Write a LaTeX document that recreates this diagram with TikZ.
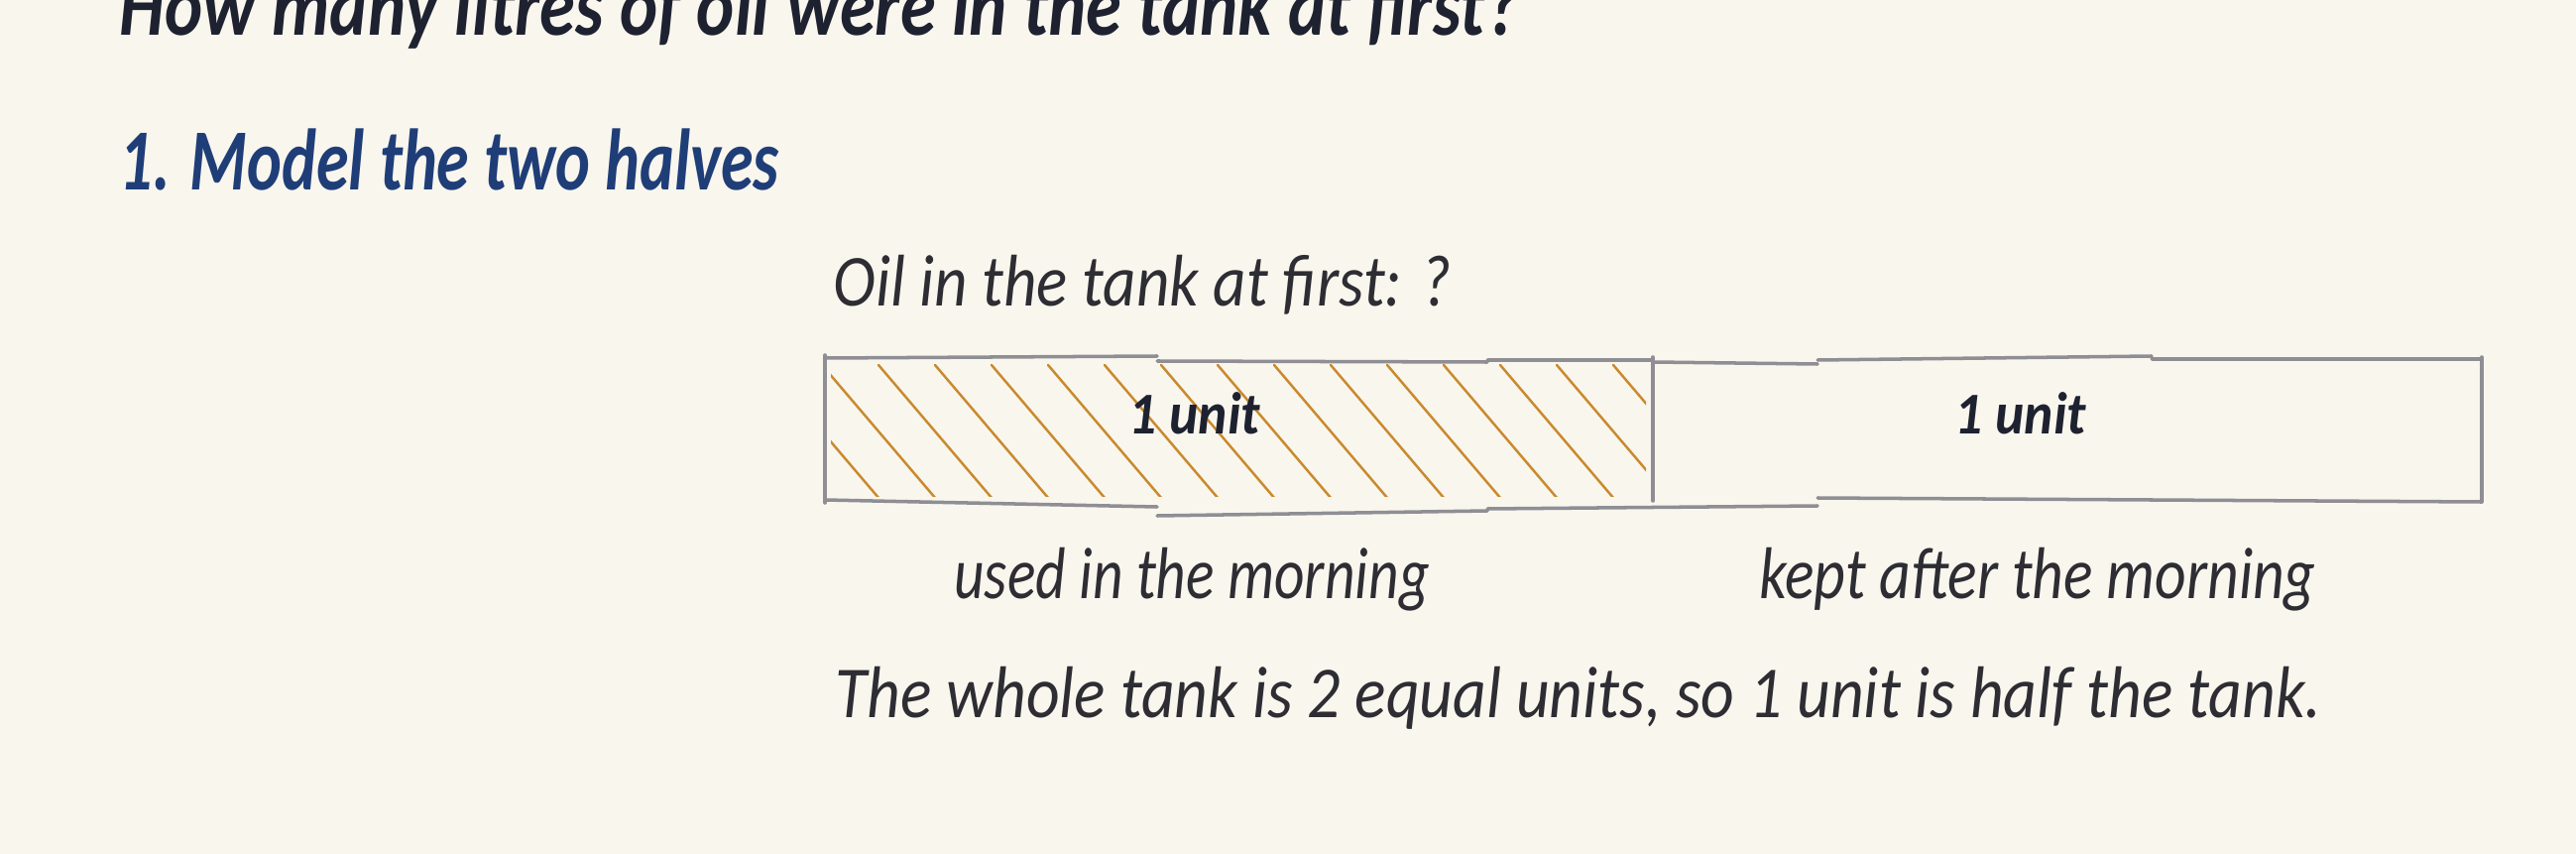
\documentclass[tikz,border=0pt]{standalone}
\usepackage{fontspec}
\usepackage{graphicx}
\setmainfont{Carlito}
\usetikzlibrary{calc}
\definecolor{paper}{HTML}{F9F6EE}
\definecolor{ink}{HTML}{1E2230}
\definecolor{penblue}{HTML}{1F3E78}
\definecolor{pencil}{HTML}{2D2D33}
\definecolor{hatchorange}{HTML}{C98A2E}
\definecolor{sketchgray}{HTML}{8E8E94}
\def\fitw#1#2{\resizebox{#1}{\height}{#2}}
\tikzset{
  hand/.style={inner sep=0pt, text=pencil, font=\itshape\fontsize{21pt}{25pt}\selectfont},
  headline/.style={inner sep=0pt, anchor=base west, font=\bfseries\itshape\fontsize{25pt}{30pt}\selectfont},
  unitlabel/.style={inner sep=0pt, anchor=base, text=ink, font=\bfseries\itshape\fontsize{17pt}{20pt}\selectfont},
  sketch/.style={line width=1pt, color=sketchgray, line cap=round},
  hatch/.style={line width=0.7pt, color=hatchorange, line cap=round}
}

\begin{document}
\begin{tikzpicture}[x=0.01cm, y=-0.01cm]
			%%%%% START %%%%%
			\useasboundingbox[fill=paper] (0,0) rectangle (2598,861);
			
			\node[headline, text=ink] (question) at (120,36) {\fitw{14.10cm}{How many litres of oil were in the tank at first?}};
			\node[headline, text=penblue] (step) at (120,192) {\fitw{6.65cm}{1. Model the two halves}};
			
			\node[hand, anchor=base west] (total) at (840,308) {\fitw{6.23cm}{Oil in the tank at first: ?}};
			
			% hatching of the used half
			\begin{scope}
				\clip (838,367) rectangle (1660,500);
				\foreach \k in {-2,...,14}
					\draw[hatch] (886+57*\k,368) -- ++(115,135);
			\end{scope}
			
			% rough outline of the bar
			\draw[sketch] (832,361) -- (1167,359) (1167,364) -- (1500,365) (1500,363) -- (1667,363);
			\draw[sketch] (1667,365) -- (1833,367) (1833,363) -- (2170,359) (2170,362) -- (2503,362);
			\draw[sketch] (832,504) -- (1167,511) (1167,520) -- (1500,515) (1500,513) -- (1833,510);
			\draw[sketch] (1833,502) -- (2170,504) -- (2503,506);
			\draw[sketch] (832,358) -- (832,507);
			\draw[sketch] (1667,360) -- (1667,505);
			\draw[sketch] (2503,360) -- (2503,506);
			
			\node[unitlabel] (usedunit) at (1205,437) {\fitw{1.32cm}{1 unit}};
			\node[unitlabel] (keptunit) at (2038,437) {\fitw{1.32cm}{1 unit}};
			
			\node[hand, anchor=base] (used) at (1202,603) {\fitw{4.79cm}{used in the morning}};
			\node[hand, anchor=base] (kept) at (2055,603) {\fitw{5.61cm}{kept after the morning}};
			
			\node[hand, anchor=base west] (whole) at (842,723) {\fitw{14.98cm}{The whole tank is 2 equal units, so 1 unit is half the tank.}};
			
			%%%%% END %%%%%
\end{tikzpicture}
\end{document}
